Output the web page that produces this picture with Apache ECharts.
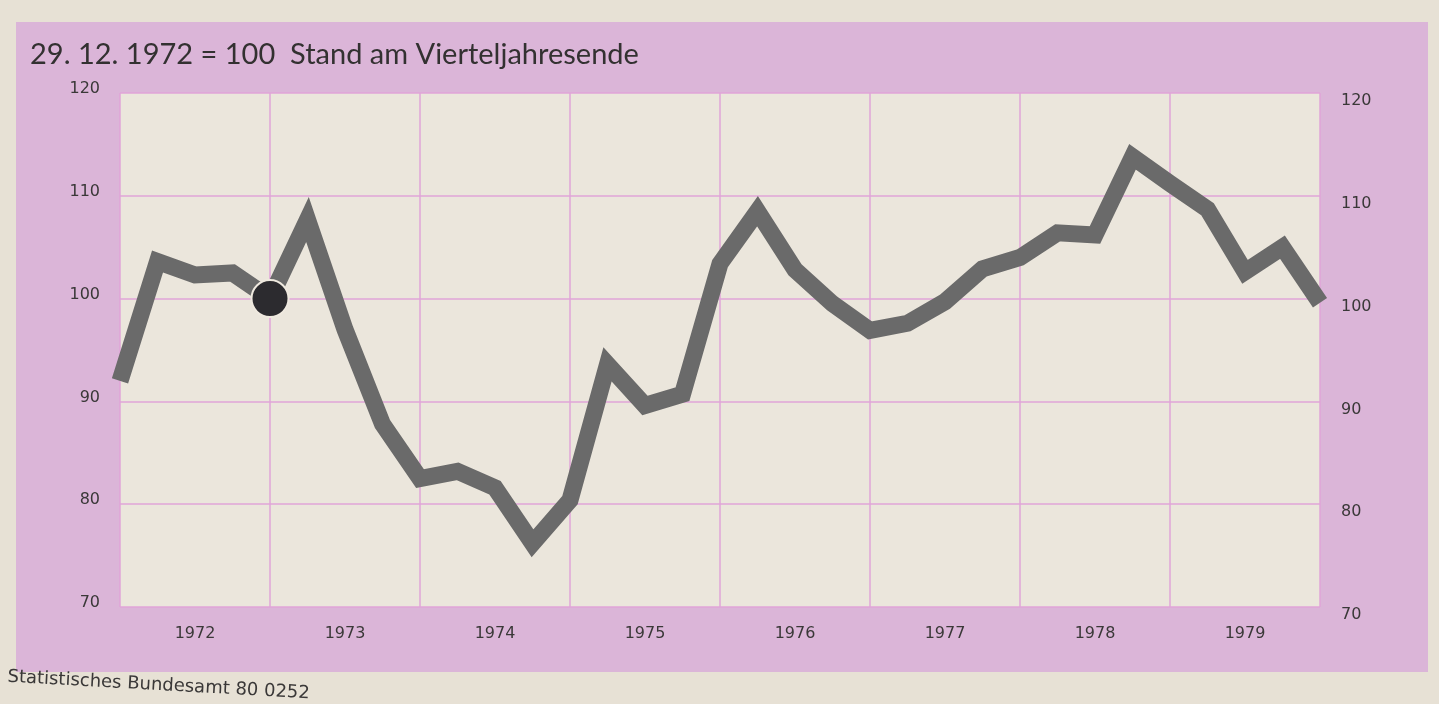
<!DOCTYPE html>
<html>
<head>
<meta charset="utf-8">
<title>Index 29.12.1972 = 100</title>
<script src="https://cdn.jsdelivr.net/npm/echarts@6/dist/echarts.min.js"></script>
<style>
  html, body { margin: 0; padding: 0; background: #e7e1d5; }
  #chart { width: 1439px; height: 704px; }
</style>
</head>
<body>
<div id="chart"></div>
<script>
// Year columns along the x axis
const years = ['1972', '1973', '1974', '1975', '1976', '1977', '1978', '1979'];

// Index level at each quarter end (29.12.1972 = 100)
const end1971 = [92.0];
const q1972 = [103.6, 102.3, 102.5, 100.0];
const q1973 = [107.7, 97.0, 87.8, 82.5];
const q1974 = [83.2, 81.6, 76.2, 80.4];
const q1975 = [93.6, 89.6, 90.7, 103.4];
const q1976 = [108.5, 102.8, 99.5, 96.9];
const q1977 = [97.6, 99.7, 102.9, 104.0];
const q1978 = [106.4, 106.2, 113.8, 111.2];
const q1979 = [108.7, 102.6, 105.0, 99.6];

// Value axis range
const yMin = 70, yMax = 120, yStep = 10;

// Base date: end of 1972 (fourth quarter end of 1972)
const baseIndex = 4;

const quarterly = [].concat(end1971, q1972, q1973, q1974, q1975, q1976, q1977, q1978, q1979);
const firstYear = Number(years[0]);
const lineData = quarterly.map((v, i) => [firstYear + i / 4, v]);
const baseData = [lineData[baseIndex]];

const gridPink = '#e0a4d9';
const frameColor = '#dbb5d8';
const textColor = '#3a3838';
const labelFont = '"DejaVu Sans", "Liberation Sans", sans-serif';

const chart = echarts.init(document.getElementById('chart'), null, { renderer: 'canvas' });

chart.setOption({
  animation: false,
  backgroundColor: '#e7e1d5',
  graphic: [
    {
      type: 'rect',
      z: -10,
      silent: true,
      shape: { x: 16, y: 22, width: 1412, height: 650 },
      style: { fill: frameColor }
    },
    {
      type: 'text',
      left: 30,
      top: 40,
      silent: true,
      style: {
        text: '29. 12. 1972 = 100  Stand am Vierteljahresende',
        font: '29px Lato, "Open Sans", sans-serif',
        fill: '#333131'
      }
    },
    {
      type: 'text',
      x: 8,
      y: 668,
      rotation: -0.055,
      silent: true,
      style: {
        text: 'Statistisches Bundesamt 80 0252',
        font: '18px ' + labelFont,
        fill: '#3a3838'
      }
    }
  ],
  grid: {
    left: 120,
    right: 119,
    top: 93,
    bottom: 97,
    show: true,
    backgroundColor: '#ebe6dc',
    borderWidth: 0
  },
  xAxis: [
    {
      type: 'value',
      min: firstYear,
      max: firstYear + years.length,
      interval: 1,
      position: 'top',
      axisLine: { show: false },
      axisTick: { show: false },
      axisLabel: { show: false },
      splitLine: { show: true, lineStyle: { color: gridPink, width: 1.5 } }
    },
    {
      type: 'category',
      data: years,
      position: 'bottom',
      boundaryGap: true,
      axisLine: { show: false },
      axisTick: { show: false },
      splitLine: { show: false },
      axisLabel: { margin: 19, fontSize: 16, color: textColor, fontFamily: labelFont }
    }
  ],
  yAxis: [
    {
      type: 'value',
      min: yMin,
      max: yMax,
      interval: yStep,
      position: 'left',
      axisLine: { show: false },
      axisTick: { show: false },
      axisLabel: { margin: 20, fontSize: 16, color: textColor, fontFamily: labelFont, verticalAlign: 'bottom', padding: [0, 0, -4, 0] },
      splitLine: { show: true, lineStyle: { color: gridPink, width: 1.5 } }
    },
    {
      type: 'value',
      min: yMin,
      max: yMax,
      interval: yStep,
      position: 'right',
      axisLabel: { margin: 21, fontSize: 16, color: textColor, fontFamily: labelFont, verticalAlign: 'top' },
      axisLine: { show: false },
      axisTick: { show: false },
      splitLine: { show: false }
    }
  ],
  series: [
    {
      type: 'line',
      xAxisIndex: 0,
      yAxisIndex: 0,
      data: lineData,
      symbol: 'none',
      silent: true,
      clip: true,
      z: 3,
      lineStyle: { color: '#6a6a6a', width: 17, join: 'miter', miterLimit: 10, cap: 'butt' }
    },
    {
      type: 'scatter',
      xAxisIndex: 0,
      yAxisIndex: 0,
      data: baseData,
      symbol: 'circle',
      symbolSize: 37,
      silent: true,
      z: 4,
      itemStyle: { color: '#2c2b2f', opacity: 1, borderColor: '#efe9df', borderWidth: 2 }
    }
  ]
});
</script>
</body>
</html>
